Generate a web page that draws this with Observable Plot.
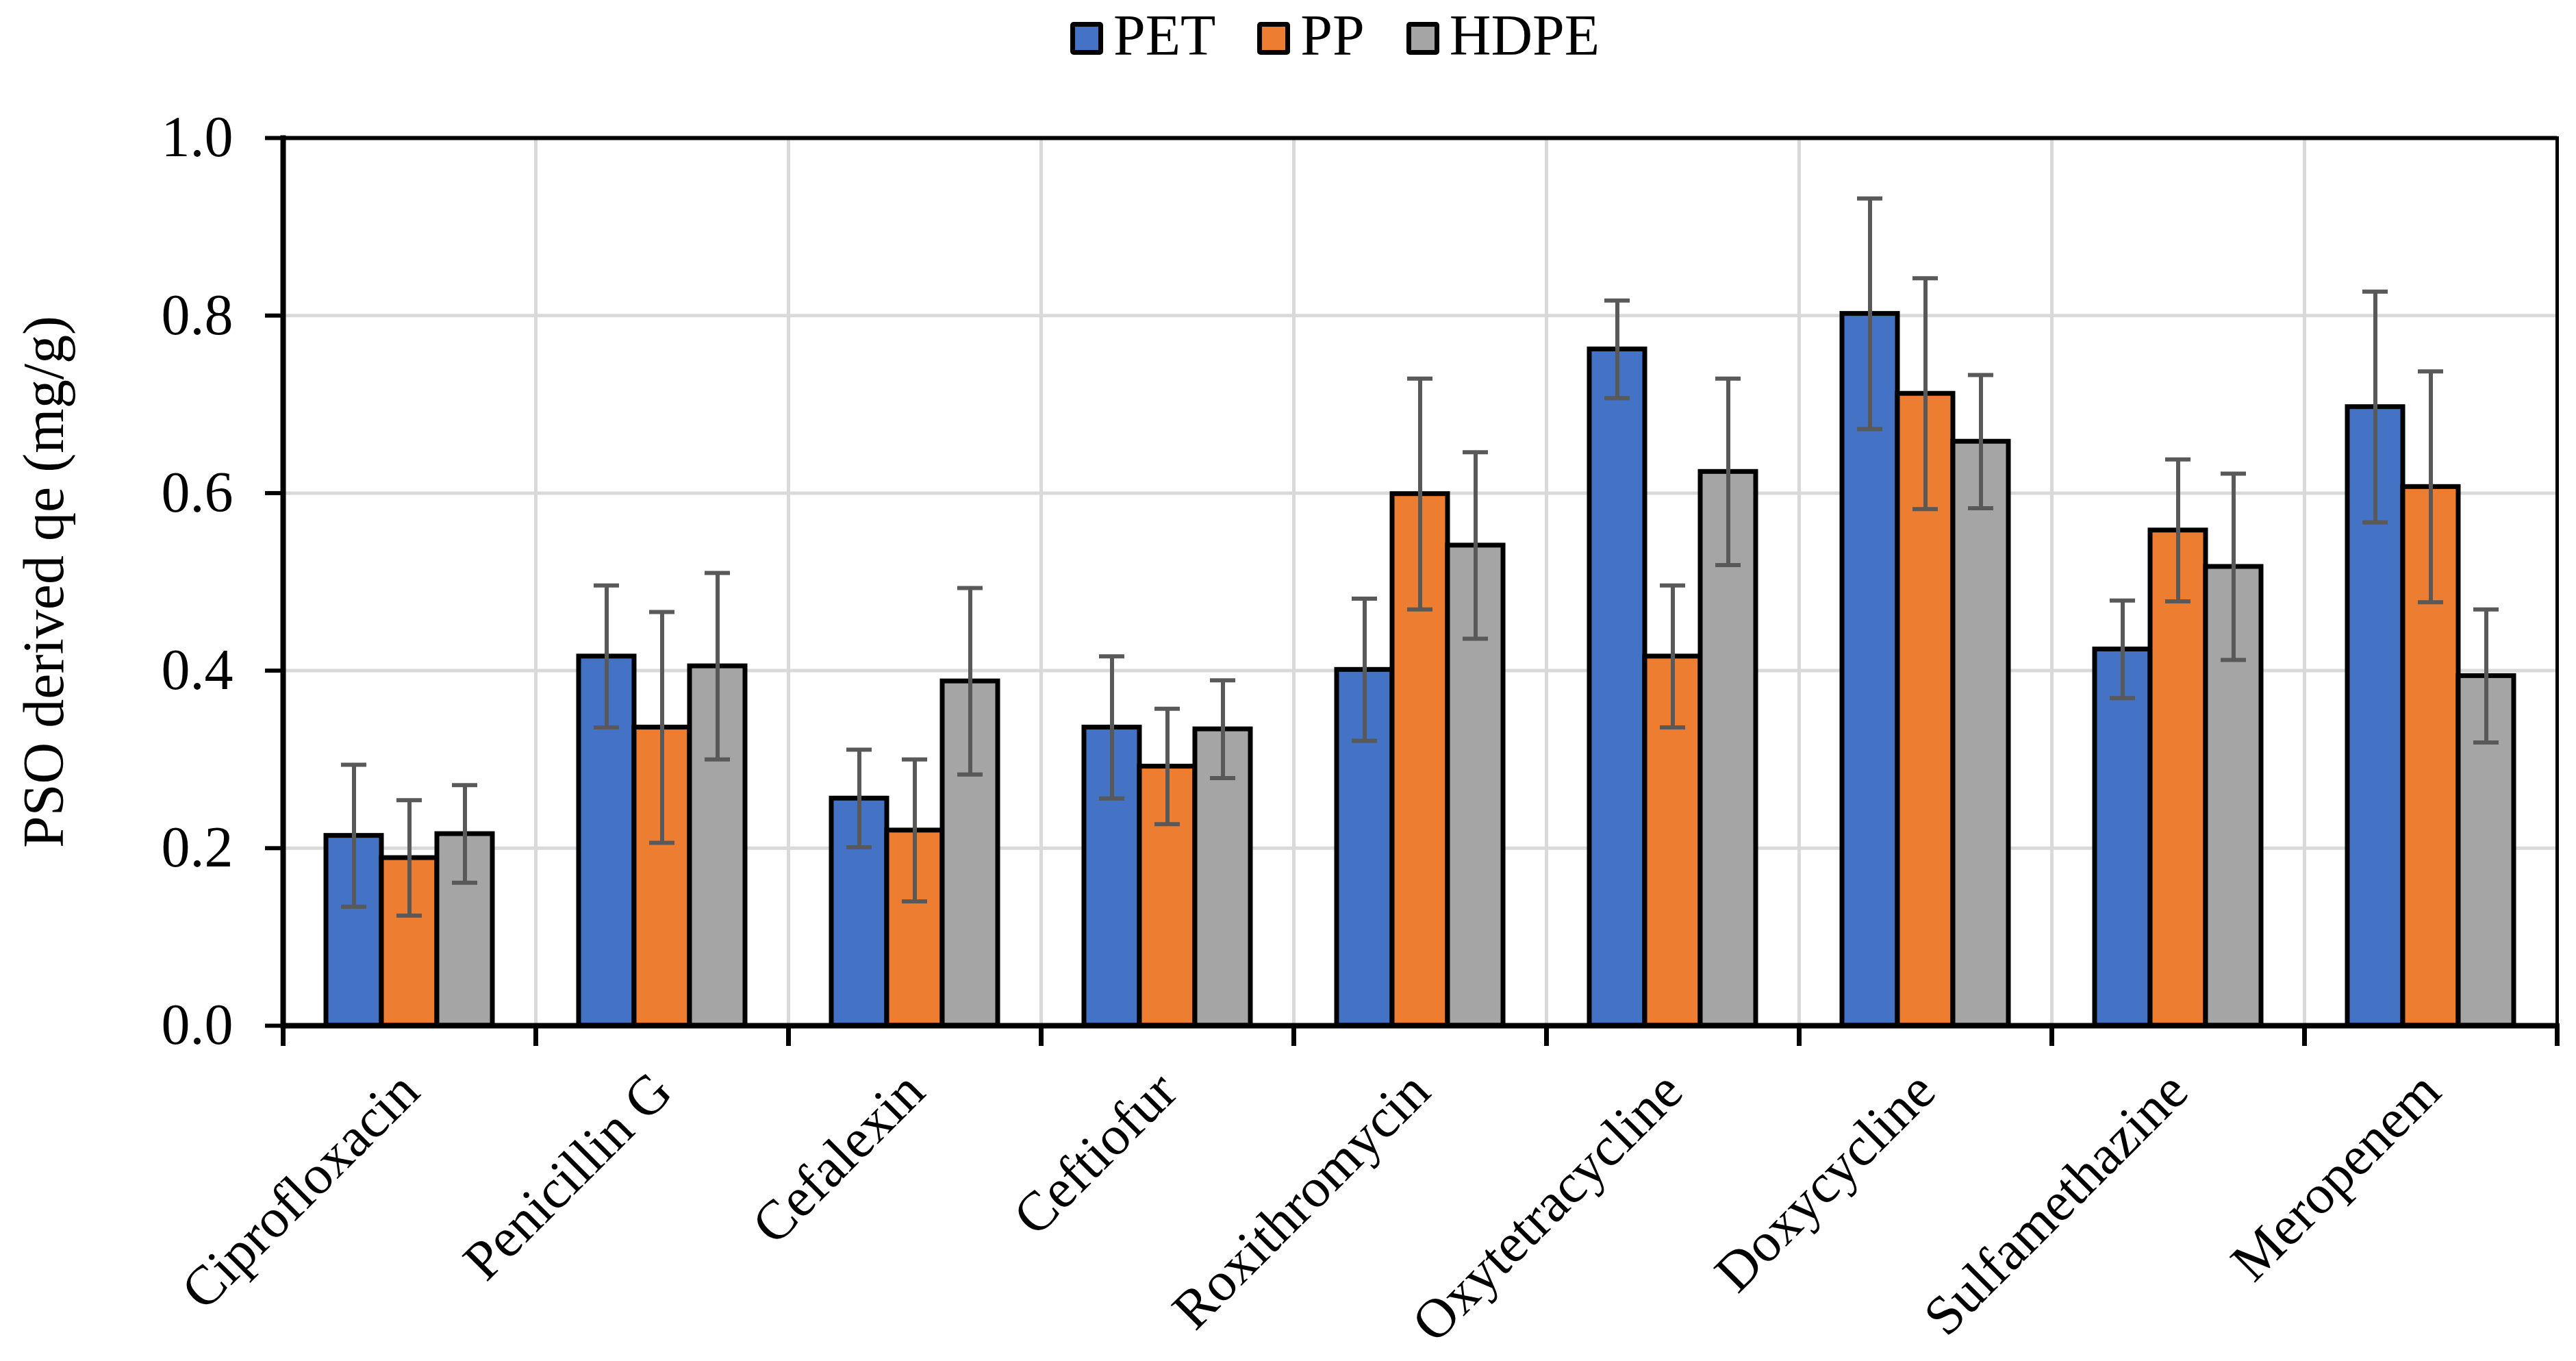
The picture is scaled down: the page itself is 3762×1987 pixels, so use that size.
<!DOCTYPE html>
<html><head><meta charset="utf-8">
<script src="https://cdn.jsdelivr.net/npm/d3@7"></script>
<script src="https://cdn.jsdelivr.net/npm/@observablehq/plot@0.6"></script>
<style>
body{margin:0;background:#fff;}
#legend{height:110px;box-sizing:border-box;padding-top:10px;padding-left:1563px;display:flex;align-items:baseline;font-family:'Times New Roman','Liberation Serif',Tinos,Times,serif;font-size:84px;line-height:1;color:#000;}
.item{display:flex;align-items:baseline;margin-right:61px;}
.sw{width:48px;height:48px;box-sizing:border-box;border:7px solid #000;border-radius:5px;margin-right:15px;}
svg text{font-family:'Times New Roman','Liberation Serif',Tinos,Times,serif;}
</style></head><body>
<div id="legend"></div><div id="chart"></div>
<script>
const categories = ["Ciprofloxacin","Penicillin G","Cefalexin","Ceftiofur","Roxithromycin","Oxytetracycline","Doxycycline","Sulfamethazine","Meropenem"];
const materials = ["PET","PP","HDPE"];
const colors = ["#4472C4","#ED7D31","#A5A5A5"];
const pet  = [0.214,0.416,0.256,0.336,0.401,0.762,0.802,0.424,0.697];
const pp   = [0.189,0.336,0.220,0.292,0.599,0.416,0.712,0.558,0.607];
const hdpe = [0.216,0.405,0.388,0.334,0.541,0.624,0.658,0.517,0.394];
const petErr  = [0.080,0.080,0.055,0.080,0.080,0.055,0.130,0.055,0.130];
const ppErr   = [0.065,0.130,0.080,0.065,0.130,0.080,0.130,0.080,0.130];
const hdpeErr = [0.055,0.105,0.105,0.055,0.105,0.105,0.075,0.105,0.075];
const yTicks = [0,0.2,0.4,0.6,0.8,1.0];
const yLabel = "PSO derived qe (mg/g)";

const series = [pet, pp, hdpe];
const errs = [petErr, ppErr, hdpeErr];
const data = categories.flatMap((c,i)=>materials.map((m,j)=>({cat:c, mat:m, val:series[j][i], err:errs[j][i]})));

const FONT = "'Times New Roman','Liberation Serif',Tinos,Times,serif";

// legend
const leg = d3.select("#legend");
materials.forEach((m,j)=>{
  const it = leg.append("div").attr("class","item");
  it.append("div").attr("class","sw").style("background", colors[j]);
  it.append("span").text(m);
});

const W=3762, H=1877, mt=91, mb=490, ml=412, mr=28;
const plotH = H-mt-mb;

const chart = Plot.plot({
  width:W, height:H, marginTop:mt, marginBottom:mb, marginLeft:ml, marginRight:mr,
  style:{fontFamily:FONT, fontSize:"84px", background:"#fff", color:"#000"},
  fx:{domain:categories, padding:0, label:null},
  x:{domain:materials, paddingInner:0, paddingOuter:0.76, axis:null},
  y:{domain:[0,1], ticks:yTicks},
  color:{domain:materials, range:colors},
  marks:[
    Plot.gridY(yTicks, {stroke:"#D9D9D9", strokeOpacity:1, strokeWidth:5}),
    Plot.frame({anchor:"left", stroke:"#D9D9D9", strokeWidth:5}),
    Plot.barY(data, {fx:"cat", x:"mat", y:"val", fill:"mat", stroke:"#000", strokeWidth:7}),
    Plot.ruleX(data, {fx:"cat", x:"mat", y1:d=>d.val-d.err, y2:d=>d.val+d.err, stroke:"#595959", strokeWidth:6}),
    Plot.tickY(data, {fx:"cat", x:"mat", y:d=>d.val+d.err, stroke:"#595959", strokeWidth:6, insetLeft:22, insetRight:22}),
    Plot.tickY(data, {fx:"cat", x:"mat", y:d=>d.val-d.err, stroke:"#595959", strokeWidth:6, insetLeft:22, insetRight:22}),
    Plot.ruleY([1], {stroke:"#000", strokeWidth:6}),
    Plot.ruleY([0], {stroke:"#000", strokeWidth:8}),
    Plot.frame({anchor:"left", facetAnchor:"left", stroke:"#000", strokeWidth:8}),
    Plot.frame({anchor:"right", facetAnchor:"right", stroke:"#000", strokeWidth:5}),
    Plot.frame({anchor:"left", stroke:"#000", strokeWidth:7, insetTop:plotH, insetBottom:-26}),
    Plot.frame({anchor:"right", facetAnchor:"right", stroke:"#000", strokeWidth:7, insetTop:plotH, insetBottom:-26}),
    Plot.axisY(yTicks, {tickSize:26, tickPadding:47, tickFormat:d3.format(".1f"), fontSize:84, strokeWidth:6, label:null}),
    Plot.axisFx({anchor:"bottom", tickSize:0, tickPadding:82, tickRotate:-45, textAnchor:"end", lineAnchor:"middle", fontSize:81, label:null}),
    Plot.text([yLabel], {frameAnchor:"left", dx:-348, rotate:-90, facetAnchor:"left", fontSize:84, textAnchor:"middle", lineAnchor:"middle"})
  ]
});
document.getElementById("chart").appendChild(chart);
</script>
</body></html>
